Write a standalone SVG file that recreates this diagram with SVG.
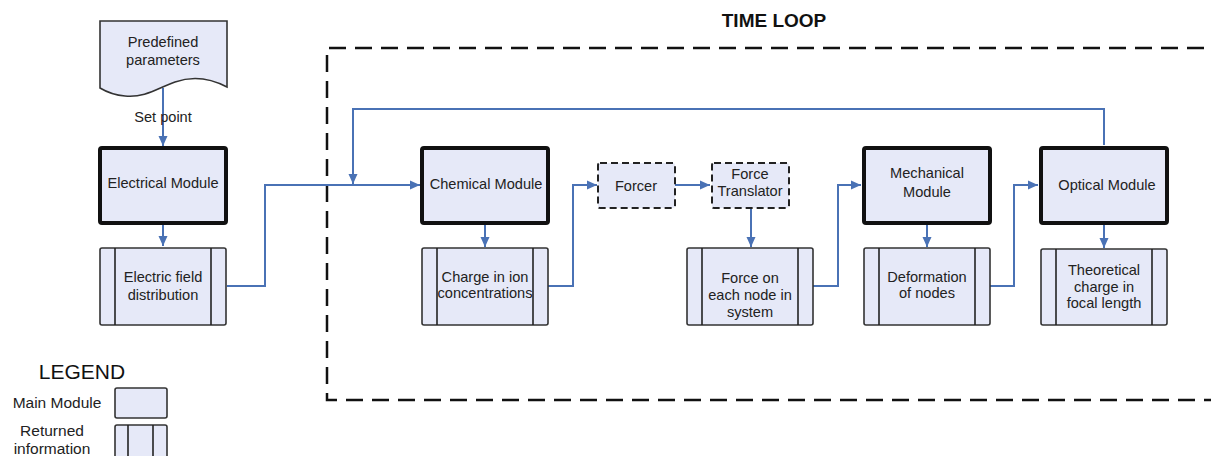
<svg xmlns="http://www.w3.org/2000/svg" width="1211" height="456" viewBox="0 0 1211 456">
  <defs>
    <marker id="arrow" markerWidth="10" markerHeight="10" refX="10" refY="5" orient="auto" markerUnits="userSpaceOnUse">
      <path d="M0,0.5 L10,5 L0,9.5 Z" fill="#4a72b5"/>
    </marker>
  </defs>
  <style>
    text { font-family: "Liberation Sans", Arial, sans-serif; font-size: 14.6px; fill: #222; text-anchor: middle; }
    .main { fill: #e6e9f8; stroke: #111; stroke-width: 4; }
    .ret { fill: #e6e9f8; stroke: #333; stroke-width: 1.6; }
    .div { stroke: #222; stroke-width: 1.6; }
    .aux { fill: #e6e9f8; stroke: #222; stroke-width: 2; stroke-dasharray: 7 4; }
    .link { fill: none; stroke: #4a72b5; stroke-width: 2; }
    .loop { fill: none; stroke: #111; stroke-width: 2.5; stroke-dasharray: 17 9; }
    .legend { font-size: 15.5px; }
  </style>
  <rect width="1211" height="456" fill="#fff"/>

  <!-- time loop frame -->
  <g id="time-loop">
    <text x="774" y="27" style="font-size:19px;font-weight:bold;fill:#111">TIME LOOP</text>
    <path class="loop" d="M1230,48 L327,48 L327,400 L1230,400"/>
  </g>

  <!-- connectors -->
  <g id="connectors">
    <line class="link" x1="163" y1="88" x2="163" y2="146" marker-end="url(#arrow)"/>
    <line class="link" x1="163" y1="225" x2="163" y2="246" marker-end="url(#arrow)"/>
    <path class="link" d="M227,286 L265,286 L265,185 L420,185" marker-end="url(#arrow)"/>
    <path class="link" d="M1104,145 L1104,109 L353,109 L353,184" marker-end="url(#arrow)"/>
    <line class="link" x1="485" y1="224" x2="485" y2="247" marker-end="url(#arrow)"/>
    <path class="link" d="M548,286 L573,286 L573,185 L597,185" marker-end="url(#arrow)"/>
    <line class="link" x1="675" y1="185" x2="710" y2="185" marker-end="url(#arrow)"/>
    <line class="link" x1="751" y1="208" x2="751" y2="247" marker-end="url(#arrow)"/>
    <path class="link" d="M813,286 L838,286 L838,185 L861,185" marker-end="url(#arrow)"/>
    <line class="link" x1="927" y1="224" x2="927" y2="247" marker-end="url(#arrow)"/>
    <path class="link" d="M990,286 L1014,286 L1014,185 L1038,185" marker-end="url(#arrow)"/>
    <line class="link" x1="1104" y1="225" x2="1104" y2="248" marker-end="url(#arrow)"/>
  </g>

  <!-- predefined parameters (document shape) -->
  <g id="predefined-parameters">
    <path d="M100,21 L227,21 L227,87 C210,78 192,76 175,82 C158,88 145,98 125,96 C112,95 105,91 100,88 Z" fill="#e6e9f8" stroke="#333" stroke-width="1.6"/>
    <text x="163" y="47">Predefined</text>
    <text x="163" y="65">parameters</text>
    <text x="163" y="122">Set point</text>
  </g>

  <g id="electrical-module">
    <rect class="main" x="100" y="148" width="126" height="75" rx="2"/>
    <text x="163" y="188">Electrical Module</text>
  </g>

  <g id="electric-field">
    <rect class="ret" x="100" y="248" width="126" height="77" rx="2"/>
    <line class="div" x1="115" y1="248" x2="115" y2="325"/>
    <line class="div" x1="211" y1="248" x2="211" y2="325"/>
    <text x="163" y="282">Electric field</text>
    <text x="163" y="300">distribution</text>
  </g>

  <g id="chemical-module">
    <rect class="main" x="422" y="148" width="126" height="75" rx="2"/>
    <text x="486" y="189">Chemical Module</text>
  </g>

  <g id="ion-concentrations">
    <rect class="ret" x="422" y="248" width="126" height="77" rx="2"/>
    <line class="div" x1="437" y1="248" x2="437" y2="325"/>
    <line class="div" x1="533" y1="248" x2="533" y2="325"/>
    <text x="485" y="282">Charge in ion</text>
    <text x="485" y="298">concentrations</text>
  </g>

  <g id="forcer">
    <rect class="aux" x="598" y="163" width="77" height="45" rx="2"/>
    <text x="636" y="191">Forcer</text>
  </g>

  <g id="force-translator">
    <rect class="aux" x="712" y="163" width="77" height="45" rx="2"/>
    <text x="750" y="179">Force</text>
    <text x="750" y="196">Translator</text>
  </g>

  <g id="force-on-nodes">
    <rect class="ret" x="687" y="248" width="126" height="77" rx="2"/>
    <line class="div" x1="702" y1="248" x2="702" y2="325"/>
    <line class="div" x1="798" y1="248" x2="798" y2="325"/>
    <text x="750" y="283">Force on</text>
    <text x="750" y="300">each node in</text>
    <text x="750" y="317">system</text>
  </g>

  <g id="mechanical-module">
    <rect class="main" x="864" y="148" width="126" height="75" rx="2"/>
    <text x="927" y="178">Mechanical</text>
    <text x="927" y="197">Module</text>
  </g>

  <g id="deformation">
    <rect class="ret" x="864" y="248" width="126" height="77" rx="2"/>
    <line class="div" x1="879" y1="248" x2="879" y2="325"/>
    <line class="div" x1="975" y1="248" x2="975" y2="325"/>
    <text x="927" y="282">Deformation</text>
    <text x="927" y="298">of nodes</text>
  </g>

  <g id="optical-module">
    <rect class="main" x="1041" y="148" width="126" height="75" rx="2"/>
    <text x="1107" y="190">Optical Module</text>
  </g>

  <g id="focal-length">
    <rect class="ret" x="1041" y="249" width="126" height="76" rx="2"/>
    <line class="div" x1="1056" y1="249" x2="1056" y2="325"/>
    <line class="div" x1="1152" y1="249" x2="1152" y2="325"/>
    <text x="1104" y="275">Theoretical</text>
    <text x="1104" y="292">charge in</text>
    <text x="1104" y="308">focal length</text>
  </g>

  <!-- legend -->
  <g id="legend">
    <text x="82" y="379" style="font-size:21px;fill:#111">LEGEND</text>
    <text class="legend" x="57" y="408">Main Module</text>
    <rect class="ret" x="115" y="388" width="52" height="30" rx="2"/>
    <text class="legend" x="52" y="436">Returned</text>
    <text class="legend" x="52" y="454">information</text>
    <rect class="ret" x="115" y="425" width="52" height="40" rx="2"/>
    <line class="div" x1="128" y1="425" x2="128" y2="456"/>
    <line class="div" x1="153" y1="425" x2="153" y2="456"/>
  </g>
</svg>
